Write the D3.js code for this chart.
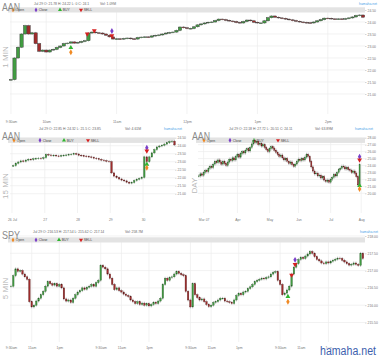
<!DOCTYPE html>
<html><head><meta charset="utf-8">
<script src="https://cdn.jsdelivr.net/npm/d3@7"></script>
<style>body{margin:0;background:#fff}svg{display:block}</style>
</head><body>
<svg id="c" width="380" height="358"></svg>
<script>
// ---------------- DATA ----------------
// Panel 1: AAN, 1 MIN (sampled every 3 minutes from 9:30am)
const aan1mStepMin = 3;
const aan1mClose = [21.6,22.5,22.95,23.5,23.85,23.5,23.55,23.1,22.78,22.83,22.75,22.83,22.86,22.94,23.0,23.1,23.12,23.17,23.12,23.15,
 23.19,23.22,23.54,23.58,23.55,23.54,23.5,23.45,23.38,23.29,23.3,23.29,23.31,23.33,23.3,23.29,23.35,23.37,23.38,23.37,
 23.42,23.44,23.46,23.5,23.54,23.56,23.58,23.65,23.79,23.76,23.73,23.73,23.8,23.88,23.92,23.96,23.99,24.0,24.06,24.12,
 24.1,24.07,24.04,24.02,23.98,23.96,24.02,24.08,24.05,23.99,23.96,23.96,24.05,24.18,24.25,24.2,24.17,24.15,24.12,24.09,
 24.06,24.03,24.0,23.98,23.97,23.96,24.0,24.05,24.1,24.16,24.15,24.13,24.12,24.13,24.12,24.14,24.17,24.21,24.27,24.29,24.2];
const aan1mTickMin = [0,30,90,150,210,270];
const aan1mTickLabels = ["9:30am","10am","11am","12pm","1pm","2pm"];
const aan1mYTicks = [21,21.5,22,22.5,23,23.5,24,24.5];
const aan1mMarkers = [{k:"buy",at:51,v:22.93},{k:"open",at:51,v:22.74},{k:"sell",at:65,v:23.5},
 {k:"sell",at:71,v:23.64},{k:"close",at:86,v:23.625},{k:"sell",at:86,v:23.43}];
const aan1mInfo = "Jul 29 O: 21.78 H: 24.22 L: 0 C: 24.1";
const aan1mVol = "Vol: 1.09M";

// Panel 2: AAN, 15 MIN (13 bars per day)
const aan15BarsPerDay = 13;
const aan15Close = [22.75,22.9,22.98,23.05,23.02,23.1,23.15,23.12,23.18,23.2,23.22,23.19,23.25,
 23.45,23.42,23.38,23.4,23.36,23.35,23.38,23.4,23.42,23.45,23.47,23.5,23.48,
 23.4,23.37,23.35,23.33,23.3,23.27,23.22,23.18,23.14,23.1,23.06,23.03,23.0,
 22.3,22.1,22.0,21.92,21.85,21.8,21.72,21.66,21.7,21.82,21.9,21.95,22.02,
 23.3,23.0,23.3,23.55,23.75,23.92,23.98,24.03,24.1,24.18,24.25,24.28,24.05];
const aan15DayLabels = ["26 Jul","27","28","29","30"];
const aan15YTicks = [21,21.5,22,22.5,23,23.5,24,24.5];
const aan15Markers = [{k:"close",at:53,v:23.875},{k:"sell",at:53,v:23.67},{k:"buy",at:53,v:22.84},{k:"open",at:53,v:22.625}];
const aan15Info = "Jul 29 O: 22.85 H: 24.32 L: 21.5 C: 23.85";
const aan15Vol = "Vol: 4.61M";

// Panel 3: AAN, DAY
const aanDayClose = [22.5,22.8,22.6,23.0,23.3,23.1,23.6,23.9,23.7,24.2,24.6,24.4,24.8,24.5,24.2,24.6,24.3,24.0,24.5,24.9,
 24.7,25.1,24.8,25.3,25.6,25.2,25.7,26.0,25.8,26.2,26.4,26.1,26.6,27.1,27.6,27.3,27.5,27.0,27.2,26.8,
 27.0,26.6,26.3,26.0,26.4,26.7,26.5,26.2,25.9,25.6,25.3,25.5,25.1,24.8,25.0,24.6,24.3,24.5,24.1,23.9,
 24.2,24.6,24.9,24.7,25.0,24.8,25.2,25.6,25.3,24.6,23.8,23.2,22.8,22.9,22.5,22.6,22.2,22.4,21.9,21.7,
 21.9,21.6,22.0,22.3,22.7,22.5,23.0,23.4,23.6,23.9,23.8,23.5,23.7,23.4,23.3,23.0,23.2,22.9,22.4,21.2,24.1];
const aanDayTickIdx = [3,24,44,62,82,101];
const aanDayTickLabels = ["Mar 07","Apr","May","Jun","Jul","Aug"];
const aanDayYTicks = [20,21,22,23,24,25,26,27,28];
const aanDayMarkers = [{k:"close",at:100,v:25.27},{k:"sell",at:100,v:24.79},{k:"buy",at:100,v:21.09},{k:"open",at:100,v:20.62}];
const aanDayInfo = "Jul 29 O: 22.18 H: 27.72 L: 20.51 C: 24.11";
const aanDayVol = "Vol: 63.89M";

// Panel 4: SPY, 5 MIN (sampled every 10 minutes, 39 bars per day)
const spyClose = [216.55,216.85,217.05,216.98,217.0,216.9,216.82,216.75,216.1,215.95,216.0,216.12,216.2,216.3,216.4,216.55,216.68,216.62,216.58,216.62,
 216.55,216.6,216.5,216.18,216.12,216.15,216.08,216.2,216.3,216.38,216.42,216.5,216.46,216.52,216.55,216.6,216.55,216.65,216.72,
 217.15,217.1,217.05,216.9,216.78,216.6,216.45,216.5,216.42,216.38,216.32,216.28,216.25,216.15,216.1,216.05,216.1,216.02,216.06,216.0,
 216.04,215.98,216.02,216.08,216.05,216.12,216.2,216.6,216.78,216.72,216.8,216.82,216.9,216.97,216.92,216.88,216.85,216.4,216.15,
 215.95,216.62,216.3,216.22,216.15,216.18,216.1,216.02,215.96,216.0,216.08,216.1,216.15,216.2,216.2,216.12,216.1,216.08,216.05,216.15,
 216.28,216.34,216.3,216.38,216.4,216.48,216.53,216.6,216.68,216.72,216.75,216.78,216.76,216.8,216.82,216.9,216.95,216.97,216.72,
 216.6,216.3,216.35,216.44,216.55,216.9,217.1,217.2,217.32,217.38,217.35,217.42,217.48,217.55,217.5,217.4,217.32,217.28,217.22,217.2,
 217.25,217.22,217.27,217.3,217.33,217.36,217.35,217.3,217.25,217.2,217.16,217.18,217.22,217.18,217.15,217.5,217.35];
const spyTickIdx = [0,9,21,39,48,60,78,87,99,117,126,138];
const spyTickLabels = ["9:30am","11am","1pm","9:30am","11am","1pm","9:30am","11am","1pm","9:30am","11am","1pm"];
const spyYTicks = [215.5,216,216.5,217,217.5,218];
const spyMarkers = [{k:"close",at:123.5,v:217.31},{k:"sell",at:123.5,v:217.18},{k:"sell",at:122,v:216.87},
 {k:"buy",at:120.4,v:216.25},{k:"open",at:120.4,v:216.1}];
const spyInfo = "Jul 29 O: 216.53 H: 217.54 L: 215.62 C: 217.14";
const spyVol = "Vol: 258.7M";

const legendNames = ["Open","Close","BUY","SELL"];
const legendKinds = ["open","close","buy","sell"];

// ---------------- DRAWING ----------------
const svg = d3.select('#c');
const FONT = "'Liberation Sans', Arial, sans-serif";
const GRID = '#ececec';
const UP = '#419c41', DOWN = '#a02c2c', WICK = '#a0a0a0';
const MCOL = {open:'#f08a24', close:'#7a3fc8', buy:'#2fb52f', sell:'#d62020'};
const SMALL = 3.4;

function marker(g, k, x, y, s){
  const type = (k==='open'||k==='close') ? d3.symbolDiamond : d3.symbolTriangle;
  g.append('path').attr('d', d3.symbol().type(type).size(s)())
    .attr('fill', MCOL[k]).attr('transform', `translate(${x},${y})` + (k==='sell' ? ' rotate(180)' : ''));
}

function txt(g, x, y, s, size, fill, anchor){
  return g.append('text').attr('x', x).attr('y', y).text(s).attr('font-size', size)
    .attr('fill', fill).attr('font-family', FONT).attr('text-anchor', anchor || 'start');
}

function drawPanel(p){
  const g = svg.append('g');
  // grid
  g.selectAll('line.hg').data(p.yTicks).join('line')
    .attr('x1', p.l).attr('x2', p.r).attr('y1', d=>p.y(d)).attr('y2', d=>p.y(d))
    .attr('stroke', GRID).attr('stroke-width', 0.7);
  g.selectAll('line.vg').data(p.xTicks).join('line')
    .attr('x1', d=>p.x(d)).attr('x2', d=>p.x(d)).attr('y1', p.t).attr('y2', p.b)
    .attr('stroke', GRID).attr('stroke-width', 0.7);
  // legend band
  g.append('rect').attr('x', p.l - 2).attr('y', p.t).attr('width', p.r - p.l + 2).attr('height', 5.2).attr('fill', '#e3e3e3');
  legendKinds.forEach((k,i)=>{
    const lx = p.l + p.leg[i];
    marker(g, k, lx, p.t + 2.6, 7);
    txt(g, lx + 2.8, p.t + 3.8, legendNames[i], SMALL, '#444');
  });
  // title, info, brand
  g.append('text').attr('x', p.titleX).attr('y', p.titleY).text(p.title)
    .attr('font-size', 11.5).attr('fill', '#8a8a8a').attr('font-family', FONT)
    .attr('textLength', 18).attr('lengthAdjust', 'spacingAndGlyphs');
  txt(g, p.infoX, p.infoY, p.info, SMALL, '#666');
  txt(g, p.volX, p.infoY, p.vol, SMALL, '#666');
  txt(g, p.brandR, p.infoY - 0.3, 'hamaha.net', SMALL, '#4aa3e8', 'end');
  // side label
  g.append('text').attr('transform', `translate(${p.sideX},${p.sideY}) rotate(-90)`).attr('text-anchor','middle')
    .text(p.side).attr('font-size', 8).attr('fill', '#b8b8b8').attr('font-family', FONT);
  // y axis
  const ya = g.append('g').attr('transform', `translate(${p.r},0)`)
    .call(d3.axisRight(p.y).tickValues(p.yTicks).tickFormat(d3.format('.2f')).tickSize(1.5).tickPadding(1));
  ya.select('.domain').remove();
  ya.selectAll('line').attr('stroke', '#aaa').attr('stroke-width', 0.5);
  ya.selectAll('text').attr('font-size', SMALL).attr('fill', '#777').attr('font-family', FONT);
  // x axis
  const xa = g.append('g').attr('transform', `translate(0,${p.xLabY})`)
    .call(d3.axisBottom(p.x).tickValues(p.xTicks).tickFormat((d,i)=>p.xLabels[i]).tickSize(0).tickPadding(0));
  xa.select('.domain').remove();
  xa.selectAll('text').attr('font-size', SMALL).attr('fill', '#777').attr('font-family', FONT);
  // candles
  const cg = g.append('g');
  const data = p.closes.map((c,i)=>({i, c, o: i ? p.closes[i-1] : c}));
  cg.selectAll('line.w').data(data).join('line')
    .attr('x1', d=>p.cx(d.i)).attr('x2', d=>p.cx(d.i))
    .attr('y1', d=>p.y(Math.max(d.o,d.c)) - p.ext).attr('y2', d=>p.y(Math.min(d.o,d.c)) + p.ext)
    .attr('stroke', WICK).attr('stroke-width', 0.7);
  cg.selectAll('rect.b').data(data).join('rect')
    .attr('x', d=>p.cx(d.i) - p.bw/2).attr('width', p.bw)
    .attr('y', d=>p.y(Math.max(d.o,d.c)))
    .attr('height', d=>Math.max(0.6, Math.abs(p.y(d.o) - p.y(d.c))))
    .attr('fill', d=>d.c>=d.o ? UP : DOWN)
    .attr('stroke', p.edge || (d=>d.c>=d.o ? '#2a5e2a' : '#5a1c1c')).attr('stroke-width', p.edgeW || 0.35);
  // markers
  p.markers.forEach(m=>marker(g, m.k, p.mx(m.at), p.y(m.v), 10));
}

// Panel 1
const x1 = d3.scaleLinear().domain([0,300]).range([11,363]);
const y1 = d3.scaleLinear().domain([21,24.5]).range([94,10]);
drawPanel({l:10, r:365, t:7.3, b:114, x:x1, y:y1, yTicks:aan1mYTicks, xTicks:aan1mTickMin, xLabels:aan1mTickLabels,
  xLabY:120.5, closes:aan1mClose, cx:i=>x1(i*aan1mStepMin), mx:m=>x1(m), bw:3.3, ext:0.9, edge:'#3a3a3a', edgeW:0.45,
  markers:aan1mMarkers,
  title:'AAN', titleX:2, titleY:11, info:aan1mInfo, infoX:34, infoY:5.2, vol:aan1mVol, volX:100, brandR:377,
  side:'1 MIN', sideX:8, sideY:57, leg:[3,26,50,71]});
// Panel 2
const x2 = d3.scaleLinear().domain([0,65]).range([12,175.8]);
const y2 = d3.scaleLinear().domain([21,24.5]).range([193.7,137.7]);
drawPanel({l:10, r:175, t:137.7, b:213, x:x2, y:y2, yTicks:aan15YTicks,
  xTicks:aan15DayLabels.map((d,i)=>i*aan15BarsPerDay), xLabels:aan15DayLabels,
  xLabY:218.8, closes:aan15Close, cx:i=>x2(i+0.5), mx:i=>x2(i+0.5), bw:1.5, ext:1.2, markers:aan15Markers,
  title:'AAN', titleX:2, titleY:140, info:aan15Info, infoX:39, infoY:130.2, vol:aan15Vol, volX:125, brandR:182,
  side:'15 MIN', sideX:8, sideY:186, leg:[4,30,54,78]});
// Panel 3
const x3 = d3.scaleLinear().domain([-0.5,101.5]).range([198,362]);
const y3 = d3.scaleLinear().domain([20,28]).range([193.3,137.7]);
drawPanel({l:198, r:365, t:137.7, b:213, x:x3, y:y3, yTicks:aanDayYTicks, xTicks:aanDayTickIdx, xLabels:aanDayTickLabels,
  xLabY:218.8, closes:aanDayClose, cx:i=>x3(i), mx:i=>x3(i), bw:1.1, ext:1.6, markers:aanDayMarkers,
  title:'AAN', titleX:192, titleY:140, info:aanDayInfo, infoX:229, infoY:130.2, vol:aanDayVol, volX:315, brandR:373,
  side:'DAY', sideX:197, sideY:185.5, leg:[6,32,56,80]});
// Panel 4
const x4 = d3.scaleLinear().domain([0,154]).range([11,365.2]);
const y4 = d3.scaleLinear().domain([215.5,218]).range([322.5,236]);
drawPanel({l:10, r:365, t:237.3, b:342, x:x4, y:y4, yTicks:spyYTicks, xTicks:spyTickIdx, xLabels:spyTickLabels,
  xLabY:346.8, closes:spyClose, cx:i=>x4(i), mx:i=>x4(i), bw:1.5, ext:1.4, markers:spyMarkers,
  title:'SPY', titleX:2, titleY:238.5, info:spyInfo, infoX:33, infoY:232.8, vol:spyVol, volX:125, brandR:378,
  side:'5 MIN', sideX:8, sideY:288.5, leg:[3,26,49,71]});

// watermark
svg.append('text').attr('x', 320).attr('y', 354.5).text('hamaha.net')
  .attr('font-size', 12.5).attr('fill', '#3d5fae').attr('font-family', FONT)
  .attr('stroke', '#fff').attr('stroke-width', 1.5).attr('paint-order', 'stroke')
  .attr('textLength', 56).attr('lengthAdjust', 'spacingAndGlyphs');
</script>
</body></html>
